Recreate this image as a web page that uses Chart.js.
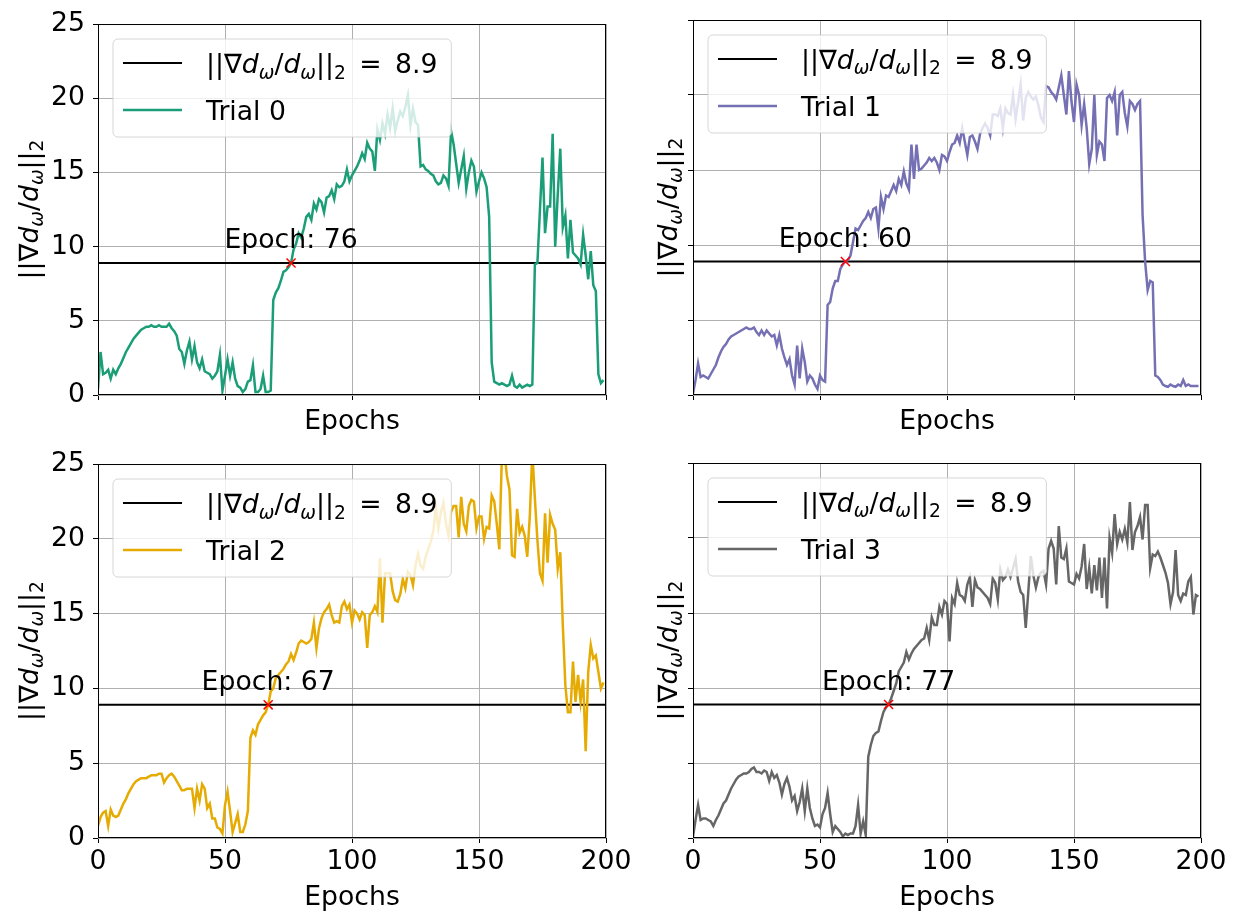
<!DOCTYPE html>
<html>
<head>
<meta charset="utf-8">
<script src="https://cdn.jsdelivr.net/npm/chart.js@4.4.1/dist/chart.umd.min.js"></script>
<style>
  body { margin: 0; background: #fff; width: 1237px; height: 914px; position: relative; overflow: hidden; }
  canvas { position: absolute; }
</style>
</head>
<body>
<canvas id="p0"></canvas>
<canvas id="p1"></canvas>
<canvas id="p2"></canvas>
<canvas id="p3"></canvas>
<script>
// ============================================
// Data
// ============================================
const xTicks = [0, 50, 100, 150, 200]
const yTicks = [0, 5, 10, 15, 20, 25]
const threshold = 8.9
const trialNames = ["Trial 0", "Trial 1", "Trial 2", "Trial 3"]
const crossEpochs = [76, 60, 67, 77]

// one value per epoch, 0..199
const trial0 = [
  0.4, 2.9, 1.4, 1.5, 1.7, 1.1, 1.7, 1.4, 1.8, 2.1,
  2.5, 2.9, 3.2, 3.5, 3.8, 4.0, 4.2, 4.4, 4.5, 4.6,
  4.6, 4.7, 4.6, 4.6, 4.7, 4.6, 4.6, 4.6, 4.8, 4.5,
  4.3, 4.0, 3.1, 2.9, 2.1, 3.0, 3.6, 2.4, 3.3, 2.2,
  1.8, 2.4, 1.6, 1.5, 1.4, 1.1, 1.3, 1.6, 2.7, 0.3,
  1.3, 2.4, 1.3, 2.2, 1.1, 0.6, 0.5, 0.2, 0.4, 0.9,
  1.0, 2.0, 0.2, 0.2, 0.4, 1.3, 0.2, 0.2, 0.3, 6.4,
  6.9, 7.2, 7.7, 8.3, 8.4, 8.6, 8.9, 9.8, 10.2, 10.9,
  10.6, 11.2, 12.0, 12.2, 11.8, 12.9, 12.5, 13.2, 13.0, 12.3,
  13.3, 13.4, 13.8, 13.2, 14.2, 14.0, 14.1, 14.4, 15.2, 14.4,
  14.8, 15.1, 15.4, 15.8, 16.3, 15.9, 17.0, 16.6, 16.4, 15.1,
  17.9, 17.2, 18.3, 17.6, 18.9, 18.0, 19.3, 17.8, 18.5, 19.1,
  18.8, 19.4, 20.2, 18.2, 19.3, 18.4, 18.2, 15.4, 15.5, 15.2,
  15.1, 14.9, 14.8, 14.4, 14.2, 14.3, 14.8, 14.6, 14.1, 17.8,
  16.9, 15.6, 14.3, 15.2, 16.1, 13.9, 15.0, 15.8, 15.4, 13.7,
  14.4, 15.0, 14.6, 14.0, 12.0, 2.2, 0.9, 0.8, 0.7, 0.8,
  0.7, 0.6, 0.7, 1.3, 0.6, 0.5, 0.7, 0.5, 0.6, 0.7,
  0.6, 0.7, 8.8, 8.9, 12.5, 16.0, 10.9, 12.7, 12.7, 17.6,
  10.0, 13.5, 16.6, 11.3, 12.1, 9.2, 11.8, 9.6, 9.4, 9.2,
  8.8, 10.8, 9.4, 7.8, 9.7, 7.4, 7.0, 1.4, 0.8, 1.0,
]
const trial1 = [
  0.1, 1.0, 2.1, 1.2, 1.3, 1.2, 1.1, 1.4, 1.7, 2.0,
  2.5, 2.9, 3.2, 3.4, 3.7, 3.9, 4.0, 4.1, 4.2, 4.3,
  4.4, 4.5, 4.4, 4.4, 4.5, 4.2, 4.0, 4.3, 4.0, 4.3,
  4.1, 3.9, 4.0, 3.3, 4.0, 3.1, 2.5, 2.0, 2.4, 1.3,
  0.7, 3.3, 1.1, 3.1, 2.2, 0.9, 1.3, 1.1, 0.7, 0.4,
  1.3, 1.0, 0.9, 6.0, 6.2, 7.1, 7.6, 7.6, 8.4, 8.7,
  8.9, 9.0, 9.3, 10.2, 11.1, 11.0, 11.3, 11.6, 11.8, 12.2,
  11.8, 12.4, 12.5, 11.1, 13.2, 12.4, 13.3, 13.2, 13.6, 14.0,
  13.6, 14.4, 14.0, 14.9, 14.1, 13.7, 16.7, 14.4, 16.7, 15.0,
  15.1, 15.3, 15.5, 15.8, 15.6, 15.8, 15.5, 15.0, 16.0, 15.9,
  15.6, 16.2, 16.7, 16.8, 17.3, 16.8, 17.8, 16.9, 16.0, 17.2,
  17.3, 16.9, 16.4, 17.4, 17.8, 18.1, 17.8, 17.3, 18.7, 18.7,
  18.6, 19.1, 17.8, 19.1, 18.8, 18.7, 20.0, 18.4, 19.5, 20.7,
  18.3, 19.8, 20.2, 19.9, 19.7, 19.9, 19.3, 18.5, 18.2, 20.6,
  20.5, 20.2, 20.0, 19.7, 20.5, 21.3, 20.0, 18.7, 21.6, 19.6,
  18.2, 20.7, 20.0, 18.0, 19.4, 17.8, 15.4, 16.4, 20.0, 16.0,
  16.9, 16.7, 15.6, 19.8, 20.0, 19.6, 20.2, 17.3, 20.0, 20.2,
  18.8, 17.9, 19.6, 19.4, 19.0, 19.4, 19.6, 12.0, 8.9, 7.0,
  7.6, 7.5, 1.3, 1.2, 1.0, 0.7, 0.6, 0.55, 0.7, 0.6,
  0.55, 0.7, 0.6, 1.0, 0.6, 0.7, 0.6, 0.6, 0.6, 0.6,
]
const trial2 = [
  0.8, 1.4, 1.7, 1.8, 0.8, 1.9, 1.5, 1.4, 1.5, 1.9,
  2.3, 2.6, 3.0, 3.3, 3.6, 3.8, 3.9, 4.0, 4.0, 4.0,
  4.1, 4.2, 4.2, 4.2, 4.3, 4.3, 3.7, 4.0, 4.2, 4.3,
  4.1, 3.8, 3.5, 3.2, 3.2, 3.3, 3.3, 3.3, 2.0, 3.3,
  2.5, 3.6, 3.3, 2.0, 2.3, 1.3, 1.3, 0.7, 0.6, 0.3,
  2.2, 3.1, 1.8, 0.4, 1.0, 1.6, 0.4, 0.4, 0.9, 1.8,
  6.7, 7.2, 6.9, 7.6, 7.9, 8.2, 8.4, 8.9, 9.8, 10.0,
  10.7, 10.9, 11.1, 11.3, 11.6, 11.8, 12.3, 11.9, 12.4, 13.0,
  13.2, 13.1, 13.0, 13.1, 13.3, 14.4, 12.7, 14.0, 14.7, 15.1,
  15.3, 15.6, 14.9, 14.4, 14.5, 14.4, 15.5, 15.8, 15.3, 15.6,
  14.4, 15.2, 15.0, 14.6, 15.1, 14.9, 12.7, 14.9, 15.1, 15.5,
  15.1, 18.7, 14.4, 17.7, 17.7, 17.7, 16.5, 15.9, 15.8, 16.3,
  17.3, 16.7, 17.8, 17.6, 16.9, 18.2, 19.0, 18.2, 18.0, 18.8,
  19.3, 19.8, 20.5, 22.1, 20.7, 21.8, 22.4, 21.0, 20.2, 21.8,
  22.2, 22.2, 20.1, 22.8, 21.0, 20.5, 22.2, 22.6, 22.5, 20.7,
  21.5, 21.5, 20.0, 20.8, 20.7, 22.9, 22.5, 21.0, 19.3, 25.5,
  25.8, 24.2, 23.3, 18.9, 18.8, 22.0, 20.4, 20.8, 20.2, 18.8,
  21.5, 25.8, 22.7, 19.9, 17.7, 17.2, 21.7, 18.4, 21.6, 21.0,
  20.6, 18.0, 19.1, 14.2, 10.2, 8.4, 8.4, 11.8, 9.1, 10.9,
  9.1, 10.6, 5.8, 11.1, 12.9, 12.0, 12.2, 11.1, 10.0, 10.4,
]
const trial3 = [
  0.1, 1.2, 2.2, 1.2, 1.3, 1.3, 1.2, 1.1, 0.8, 1.2,
  1.5, 1.9, 2.3, 2.5, 2.9, 3.3, 3.6, 3.9, 4.1, 4.2,
  4.3, 4.3, 4.4, 4.6, 4.7, 4.4, 4.4, 4.3, 4.5, 4.4,
  3.8, 4.4, 4.0, 4.2, 3.7, 2.9, 3.6, 4.0, 3.4, 2.5,
  2.8, 1.8, 2.4, 3.3, 1.8, 3.3, 2.0, 1.3, 0.8, 0.9,
  0.7, 1.6, 2.0, 3.0, 1.6, 0.4, 0.8, 0.6, 0.4, 0.1,
  0.3, 0.2, 0.3, 0.3, 0.8, 2.2, 0.3, 1.1, 0.2, 5.4,
  6.2, 6.8, 7.0, 7.1, 7.8, 8.4, 8.7, 8.9, 9.3, 9.8,
  10.3, 11.1, 11.4, 11.7, 12.4, 11.9, 12.3, 12.6, 12.8, 13.0,
  13.2, 13.3, 14.0, 13.2, 14.7, 14.2, 14.2, 15.4, 14.9, 15.8,
  15.6, 13.1, 16.0, 15.6, 17.0, 16.2, 16.1, 15.8, 16.9, 17.4,
  15.4, 17.2, 16.7, 16.6, 16.4, 16.2, 16.0, 15.6, 17.3, 17.0,
  15.9, 17.9, 17.2, 17.4, 17.9, 17.4, 18.0, 18.6, 17.1, 16.4,
  16.2, 14.0, 16.4, 18.8, 17.5, 16.7, 17.4, 17.7, 17.8, 16.9,
  19.3, 19.8, 19.3, 16.9, 20.8, 18.7, 18.6, 19.3, 17.1, 17.0,
  16.9, 17.6, 17.3, 18.1, 19.6, 16.6, 18.0, 16.3, 18.2, 16.5,
  18.7, 16.0, 18.7, 15.3, 20.0, 19.0, 21.6, 19.6, 20.4, 19.9,
  20.6, 19.7, 22.4, 19.2, 20.4, 20.8, 21.4, 19.9, 22.2, 22.2,
  18.0, 18.9, 18.8, 19.1, 18.7, 18.2, 17.7, 17.0, 15.6, 16.4,
  19.2, 16.2, 15.8, 16.3, 16.2, 17.1, 17.4, 14.9, 16.2, 16.1,
]
const trials = [trial0, trial1, trial2, trial3]

// ============================================
// Style / layout
// ============================================
const FONT = "DejaVu Sans"
const FS = 26.7
const COLORS = ["#1b9e77", "#7570b3", "#e6ab02", "#666666"]
const LABEL_LIFT = 1.0 // "Epoch: N" sits this far above the threshold line

// canvas box [left, top, width, height] and plot area [left, top, right, bottom] in page px
const PANELS = [
  { box: [0, 0, 640, 450], area: [98, 20, 606, 395], xLabels: false, yLabels: true, yTitleDx: -70, xTitleDy: 24 },
  { box: [618, 0, 619, 450], area: [693, 20, 1201, 395], xLabels: false, yLabels: false, yTitleDx: -26, xTitleDy: 24 },
  { box: [0, 440, 640, 474], area: [98, 463, 606, 838], xLabels: true, yLabels: true, yTitleDx: -70, xTitleDy: 57 },
  { box: [618, 440, 619, 474], area: [693, 463, 1201, 838], xLabels: true, yLabels: false, yTitleDx: -26, xTitleDy: 57 },
]

Chart.defaults.font.family = FONT
Chart.defaults.font.size = FS
Chart.defaults.color = "#000"

// ============================================
// Mathtext-ish label: ||∇d_ω/d_ω||_2
// ============================================
function normParts(suffix) {
  const parts = [
    ["||∇", ""], ["d", "i"], ["ω", "is"], ["/", ""],
    ["d", "i"], ["ω", "is"], ["||", ""], ["2", "s"],
  ]
  if (suffix) parts.push([suffix, ""])
  return parts
}

function partFont(kind) {
  const size = kind.includes("s") ? FS * 0.7 : FS
  return (kind.includes("i") ? "italic " : "") + size.toFixed(1) + "px '" + FONT + "'"
}

function richWidth(ctx, parts) {
  let w = 0
  for (const [t, k] of parts) {
    ctx.font = partFont(k)
    w += ctx.measureText(t).width
  }
  return w
}

function drawRich(ctx, parts, x, y) {
  let cx = x
  for (const [t, k] of parts) {
    ctx.font = partFont(k)
    ctx.fillText(t, cx, y + (k.includes("s") ? FS * 0.22 : 0))
    cx += ctx.measureText(t).width
  }
}

// ============================================
// Frame, legend, annotation and axis titles
// ============================================
const decor = {
  id: "decor",
  afterDatasetsDraw(chart, args, opts) {
    const { ctx, chartArea: a, scales } = chart
    const i = opts.index
    ctx.save()

    // full box like matplotlib spines
    ctx.strokeStyle = "#000"
    ctx.lineWidth = 1
    ctx.strokeRect(a.left + 0.5, a.top + 0.5, a.right - a.left - 1, a.bottom - a.top - 1)

    // crossing annotation
    ctx.fillStyle = "#000"
    ctx.font = FS + "px '" + FONT + "'"
    ctx.textAlign = "center"
    ctx.textBaseline = "alphabetic"
    ctx.fillText("Epoch: " + crossEpochs[i],
      scales.x.getPixelForValue(crossEpochs[i]),
      scales.y.getPixelForValue(threshold + LABEL_LIFT))

    // legend
    ctx.textAlign = "left"
    const lx = a.left + 15
    const ly = a.top + 15
    const row1 = normParts("\u2002=\u2002" + threshold)
    const w = 93 + richWidth(ctx, row1) + 14
    ctx.beginPath()
    ctx.roundRect(lx, ly, w, 98, 5)
    ctx.fillStyle = "rgba(255,255,255,0.8)"
    ctx.fill()
    ctx.strokeStyle = "rgba(204,204,204,0.8)"
    ctx.lineWidth = 1
    ctx.stroke()
    const rows = [["#000", 2, row1], [COLORS[i], 2.4, [[trialNames[i], ""]]]]
    rows.forEach(([c, lw, parts], r) => {
      const yy = ly + 24 + r * 47
      ctx.strokeStyle = c
      ctx.lineWidth = lw
      ctx.beginPath()
      ctx.moveTo(lx + 10, yy)
      ctx.lineTo(lx + 69, yy)
      ctx.stroke()
      ctx.fillStyle = "#000"
      drawRich(ctx, parts, lx + 93, yy + 0.36 * FS)
    })

    // y title (rotated)
    ctx.save()
    ctx.translate(a.left + opts.yTitleDx, (a.top + a.bottom) / 2)
    ctx.rotate(-Math.PI / 2)
    const yt = normParts("")
    drawRich(ctx, yt, -richWidth(ctx, yt) / 2, 0.36 * FS)
    ctx.restore()

    // x title
    ctx.textAlign = "center"
    ctx.font = FS + "px '" + FONT + "'"
    ctx.fillText("Epochs", (a.left + a.right) / 2, a.bottom + opts.xTitleDy + 0.36 * FS)

    ctx.restore()
  },
}

// ============================================
// Build the four panels
// ============================================
PANELS.forEach((p, i) => {
  const [bl, bt, bw, bh] = p.box
  const [al, at, ar, ab] = p.area
  const canvas = document.getElementById("p" + i)
  canvas.width = bw
  canvas.height = bh
  canvas.style.left = bl + "px"
  canvas.style.top = bt + "px"
  canvas.style.width = bw + "px"
  canvas.style.height = bh + "px"

  const gridOpts = { color: "#b0b0b0", lineWidth: 1, tickLength: 5, tickColor: "#000", tickWidth: 1 }

  new Chart(canvas.getContext("2d"), {
    type: "line",
    data: {
      datasets: [
        {
          label: "cross",
          data: [{ x: crossEpochs[i], y: threshold }],
          showLine: false,
          pointStyle: "crossRot",
          pointRadius: 6.4,
          pointBorderColor: "#ff0000",
          pointBorderWidth: 1.5,
        },
        {
          label: trialNames[i],
          data: trials[i].map((v, e) => ({ x: e, y: v })),
          borderColor: COLORS[i],
          borderWidth: 2.5,
          pointRadius: 0,
          tension: 0,
        },
        {
          label: "||∇dω/dω||₂ = " + threshold,
          data: [{ x: xTicks[0], y: threshold }, { x: xTicks[xTicks.length - 1], y: threshold }],
          borderColor: "#000",
          borderWidth: 2,
          pointRadius: 0,
        },
      ],
    },
    options: {
      responsive: false,
      animation: false,
      devicePixelRatio: 1,
      layout: { padding: { left: 0, top: at - bt, right: bl + bw - ar, bottom: 0 } },
      plugins: {
        legend: { display: false },
        tooltip: { enabled: false },
        decor: { index: i, yTitleDx: p.yTitleDx, xTitleDy: p.xTitleDy },
      },
      scales: {
        x: {
          type: "linear",
          min: xTicks[0],
          max: xTicks[xTicks.length - 1],
          afterBuildTicks: (s) => { s.ticks = xTicks.map((v) => ({ value: v })) },
          afterFit: (s) => { s.height = bt + bh - ab },
          ticks: { display: p.xLabels, padding: 3, maxRotation: 0 },
          grid: gridOpts,
          border: { display: false },
        },
        y: {
          type: "linear",
          min: yTicks[0],
          max: yTicks[yTicks.length - 1],
          afterBuildTicks: (s) => { s.ticks = yTicks.map((v) => ({ value: v })) },
          afterFit: (s) => { s.width = al - bl },
          ticks: { display: p.yLabels, padding: 8 },
          grid: gridOpts,
          border: { display: false },
        },
      },
    },
    plugins: [decor],
  })
})
</script>
</body>
</html>
